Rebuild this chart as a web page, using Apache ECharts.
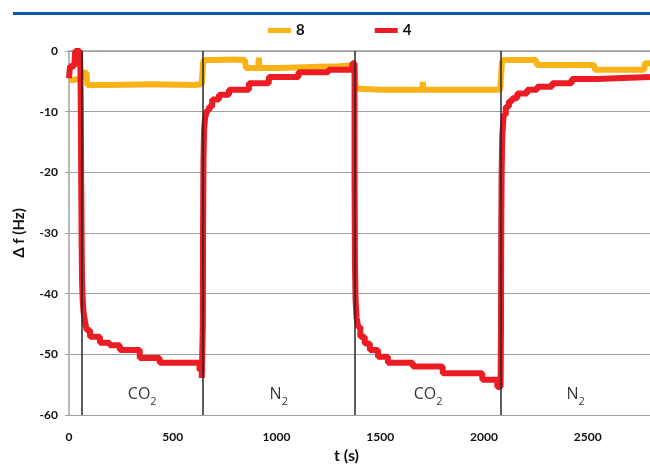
<!DOCTYPE html>
<html>
  <head>
    <meta charset="utf-8" />
    <title>Δf vs t</title>
    <script src="https://cdn.jsdelivr.net/npm/echarts@6/dist/echarts.min.js"></script>
    <style>
      body { margin: 0; background: #fff; }
      #main { width: 650px; height: 469px; }
    </style>
  </head>
  <body>
    <div id="main"></div>
    <script>
      // series "8" (orange) : t (s) and Δf (Hz)
      var t8 = [0, 20, 60, 66, 85, 88, 200, 400, 600, 640, 646, 650, 700, 800, 848, 852, 912, 915, 918, 1000, 1100, 1200, 1300, 1375,
                1382, 1390, 1500, 1600, 1702, 1705, 1708, 1800, 1900, 2000, 2078, 2086, 2092, 2250, 2256, 2400, 2530, 2535, 2700, 2772, 2776, 2800];
      var v8 = [-4.8, -4.5, -4.0, -3.6, -3.8, -5.6, -5.5, -5.6, -5.5, -5.5, -2.0, -1.5, -1.4, -1.5, -1.5, -2.8, -2.8, -1.1, -2.8, -2.7, -2.6, -2.5, -2.4, -2.3,
                -6.2, -6.4, -6.4, -6.4, -6.4, -5.1, -6.4, -6.4, -6.4, -6.4, -6.3, -2.0, -1.5, -1.5, -2.3, -2.3, -2.4, -3.1, -3.1, -3.1, -2.0, -2.0];

      // series "4" (red), one pair of arrays per gas period
      var t4co2a = [0,    5,    25,   30, 52, 55, 57,  59,  61,  63,  66,  70,  77,    85,  101,   149,   196,   245,   341,   437,   629,   640];
      var v4co2a = [-4.5, -2.5, -2.5, 0,  0,  -3, -10, -22, -32, -38, -41, -43, -44.5, -46, -47.1, -48.1, -48.5, -49.3, -50.6, -51.4, -52.6, -53.9];
      var t4n2a  = [645, 646, 648, 651, 656, 665,  675,  690, 723,  771,  867,  963,  1106, 1250, 1365, 1376];
      var v4n2a  = [-45, -30, -18, -13, -11, -9.8, -9.2, -8,  -7.2, -6.4, -5.3, -4.3, -3.5, -3.1, -2.0, -20];
      var t4co2b = [1378, 1381, 1386, 1394,  1404,  1425,  1450,  1489,  1537,  1657, 1801,  1992,  2064,  2080];
      var v4co2b = [-35,  -41,  -44,  -45.5, -47.1, -48.2, -49.3, -50.4, -51.4, -52,  -53.1, -54.2, -55.4, -55.6];
      var t4n2b  = [2082, 2083, 2085, 2088, 2095,  2105, 2120, 2136, 2160, 2208, 2256, 2328, 2423, 2543, 2800];
      var v4n2b  = [-45,  -30,  -20,  -14,  -10.5, -9.2, -8.3, -7.8, -7.0, -6.4, -5.9, -5.3, -4.6, -4.3, -4.3];

      // gas switching times (s) and phase names
      var switchT = [62, 644, 1378, 2083];
      var phases = ['CO2', 'N2', 'CO2', 'N2'];
      var xTicks = [0, 500, 1000, 1500, 2000, 2500];
      var yTicks = [-60, -50, -40, -30, -20, -10, 0];

      var xMax = 2800;
      var font = 'Lato, "Open Sans", sans-serif';

      function pairs(ts, vs) {
        return ts.map(function (t, i) { return [t, vs[i]]; });
      }

      var red = [].concat(
        pairs(t4co2a, v4co2a),
        pairs(t4n2a, v4n2a),
        pairs(t4co2b, v4co2b),
        pairs(t4n2b, v4n2b)
      );

      // phase labels sit in the middle of each gas period
      var phaseData = phases.map(function (p, i) {
        var end = i + 1 < switchT.length ? switchT[i + 1] : xMax;
        return { value: [(switchT[i] + end) / 2, -57], name: p };
      });

      var myChart = echarts.init(document.getElementById('main'));
      var option = {
        backgroundColor: '#fff',
        animation: false,
        graphic: [{
          type: 'rect',
          shape: { x: 13, y: 12, width: 640, height: 3 },
          style: { fill: '#0b5aa6' }
        }],
        legend: {
          data: ['8', '4'],
          left: 263,
          top: 18,
          icon: 'rect',
          itemWidth: 23,
          itemHeight: 5,
          itemGap: 70,
          textStyle: { fontFamily: font, fontWeight: 'bold', fontSize: 15, color: '#111' }
        },
        grid: { left: 69, top: 51, width: 585, height: 364 },
        xAxis: {
          type: 'value',
          min: 0,
          max: xMax,
          interval: 500,
          name: 't (s)',
          nameLocation: 'middle',
          nameGap: 33,
          nameTextStyle: { fontFamily: font, fontWeight: 'bold', fontSize: 16, color: '#111', padding: [0, 26, 0, 0] },
          axisLine: { lineStyle: { color: '#a0a0a0', width: 1.5 } },
          axisTick: { show: false },
          splitLine: { show: false },
          axisLabel: {
            margin: 16,
            showMaxLabel: false,
            fontFamily: font, fontWeight: 'bold', fontSize: 12, color: '#111',
            formatter: function (v) { return xTicks.indexOf(v) >= 0 ? String(v) : ''; }
          }
        },
        yAxis: {
          type: 'value',
          min: -60,
          max: 0,
          interval: 10,
          name: 'Δ f (Hz)',
          nameLocation: 'middle',
          nameGap: 42,
          nameTextStyle: { fontFamily: font, fontWeight: 'bold', fontSize: 15, color: '#111' },
          axisLine: { show: true, lineStyle: { color: '#a0a0a0', width: 1.5 } },
          axisTick: { show: true, length: 4, inside: false, lineStyle: { color: '#a0a0a0' } },
          splitLine: { lineStyle: { color: '#a0a0a0', width: 1.2 } },
          axisLabel: {
            margin: 11,
            fontFamily: font, fontWeight: 'bold', fontSize: 12, color: '#111',
            formatter: function (v) { return yTicks.indexOf(v) >= 0 ? String(v) : ''; }
          }
        },
        series: [{
          name: '8',
          type: 'line',
          step: 'end',
          data: pairs(t8, v8),
          showSymbol: false,
          color: '#f9b217',
          lineStyle: { width: 6, color: '#f9b217' },
          z: 2
        }, {
          name: '4',
          type: 'line',
          step: 'end',
          data: red,
          showSymbol: false,
          color: '#ec1c24',
          lineStyle: { width: 6, color: '#ec1c24' },
          z: 3
        }, {
          // gas switch markers
          name: 'switch',
          type: 'line',
          data: [],
          z: 4,
          markLine: {
            silent: true,
            symbol: ['none', 'none'],
            label: { show: false },
            lineStyle: { color: '#262626', type: 'solid', width: 1.5 },
            data: switchT.map(function (t) { return { xAxis: t }; })
          }
        }, {
          // CO2 / N2 phase labels
          name: 'phase',
          type: 'scatter',
          symbolSize: 0,
          data: phaseData,
          z: 5,
          label: {
            show: true,
            position: 'inside',
            formatter: function (p) {
              return '{m|' + p.name.slice(0, -1) + '}{s|2}';
            },
            rich: {
              m: { fontFamily: '"Open Sans", sans-serif', fontSize: 16, color: '#000', verticalAlign: 'bottom', padding: [0, 0, 5, 0] },
              s: { fontFamily: '"Open Sans", sans-serif', fontSize: 11, color: '#000', verticalAlign: 'bottom' }
            }
          }
        }]
      };
      myChart.setOption(option);
    </script>
  </body>
</html>
